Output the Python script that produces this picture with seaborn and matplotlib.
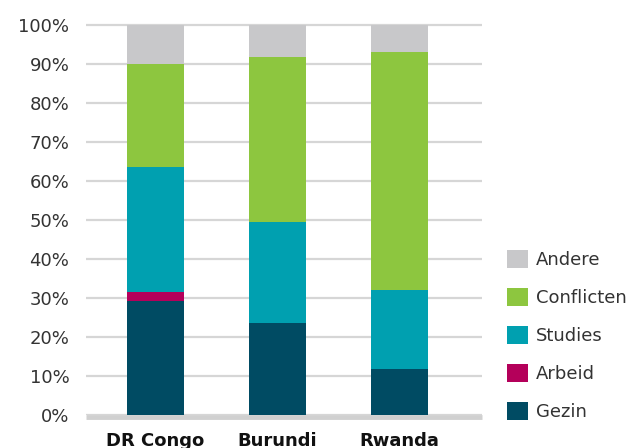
import matplotlib
matplotlib.use("Agg")
import matplotlib.pyplot as plt
from matplotlib.patches import Patch
import seaborn as sns
import numpy as np
import pandas as pd

countries = ["DR Congo", "Burundi", "Rwanda"]
gezin = [29.2, 23.6, 11.8]
arbeid = [2.3, 0.0, 0.0]
studies = [32.1, 25.9, 20.3]
conflicten = [26.4, 42.4, 61.1]
andere = [10.0, 8.1, 6.8]

series_names = ["Gezin", "Arbeid", "Studies", "Conflicten", "Andere"]
series_values = [gezin, arbeid, studies, conflicten, andere]
colors = ["#004B63", "#B4005A", "#00A0B0", "#8DC63F", "#C8C8CA"]
yticks = list(range(0, 101, 10))

sns.set_theme(style="white")
plt.rcParams["font.family"] = ["DejaVu Sans"]

fig = plt.figure(figsize=(6.44, 4.48), dpi=100)
ax = fig.add_axes([86 / 644, 1 - 415 / 448, (482 - 86) / 644, (415 - 25) / 448 * 100.6 / 100])

cum = np.cumsum(np.array(series_values), axis=0)
# draw from top layer down so lower layers overlap
for i in range(len(series_names) - 1, -1, -1):
    df = pd.DataFrame({"country": countries, "value": cum[i]})
    sns.barplot(data=df, x="country", y="value", color=colors[i], width=0.47,
                saturation=1, ax=ax, zorder=2, linewidth=0, edgecolor="none")

ax.set_ylim(0, 100.6)
ax.set_xlim(-0.57, 2.68)
ax.set_yticks(yticks)
ax.set_yticklabels([f"{t}%" for t in yticks])
ax.yaxis.grid(True, color="#D6D6D6", linewidth=1.6, zorder=0)
ax.set_axisbelow(True)
for s in ["top", "right", "left", "bottom"]:
    ax.spines[s].set_visible(False)
ax.axhline(-0.6, color="#D0D0D0", linewidth=3.5, zorder=1, clip_on=False,
           solid_capstyle="butt")
ax.tick_params(axis="y", length=0, pad=12, labelsize=13, labelcolor="#333333")
ax.tick_params(axis="x", length=0, pad=12, labelsize=13, labelcolor="#111111")
for lab in ax.get_xticklabels():
    lab.set_fontweight("bold")
ax.set_xlabel("")
ax.set_ylabel("")

handles = [Patch(facecolor=colors[i], edgecolor="none", label=series_names[i])
           for i in range(len(series_names) - 1, -1, -1)]
fig.legend(handles=handles, loc="upper left", bbox_to_anchor=(507 / 644, 1 - 249.5 / 448),
           frameon=False, fontsize=13, handlelength=1.17, handleheight=1.17,
           labelspacing=1.05, handletextpad=0.45, borderpad=0, borderaxespad=0,
           labelcolor="#333333")

fig.savefig("out.png", dpi=100)
